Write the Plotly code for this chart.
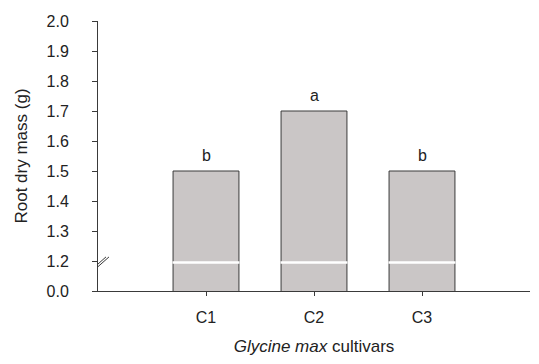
import plotly.graph_objects as go

categories = ["C1", "C2", "C3"]
values = [1.5, 1.7, 1.5]
letters = ["b", "a", "b"]
tick_vals = [1.1, 1.2, 1.3, 1.4, 1.5, 1.6, 1.7, 1.8, 1.9, 2.0]
tick_text = ["0.0", "1.2", "1.3", "1.4", "1.5", "1.6", "1.7", "1.8", "1.9", "2.0"]
break_level = 1.195

FONT = "Liberation Sans, Arial, sans-serif"
AX = "#3a3a3a"

fig = go.Figure()
fig.add_trace(go.Bar(
    x=[0, 1, 2], y=values, width=0.61,
    marker=dict(color="#cac6c6", line=dict(color="#3a3a3a", width=1)),
    showlegend=False, hoverinfo="skip",
))

shapes = []
for i, v in enumerate(values):
    shapes.append(dict(type="line", xref="x", yref="y", x0=i - 0.31, x1=i + 0.31,
                       y0=break_level, y1=break_level, line=dict(color="white", width=2.5)))
# axis break marks
for dx in (0, 3):
    shapes.append(dict(type="line", xref="x", yref="y", xsizemode="pixel", ysizemode="pixel",
                       xanchor=-1, yanchor=1.187, x0=-10 + dx, y0=-8, x1=8 + dx, y1=8,
                       line=dict(color=AX, width=1)))

annotations = []
for i, (v, t) in enumerate(zip(values, letters)):
    annotations.append(dict(x=i, y=v, xref="x", yref="y", text=t, showarrow=False,
                            yshift=16, font=dict(family=FONT, size=16, color="#222")))

fig.update_layout(
    width=531, height=356,
    margin=dict(l=90, r=9, t=13, b=73, autoexpand=False),
    paper_bgcolor="white", plot_bgcolor="white",
    shapes=shapes, annotations=annotations,
    font=dict(family=FONT, size=16, color="#222"),
    xaxis=dict(range=[-1, 3], tickvals=[0, 1, 2], ticktext=categories,
               showline=True, linecolor=AX, linewidth=1, showgrid=False, zeroline=False,
               ticks="outside", ticklen=4, tickcolor=AX, ticklabelstandoff=8,
               title=dict(text="<i>Glycine max</i> cultivars", standoff=14,
                          font=dict(family=FONT, size=17)),
               tickfont=dict(family=FONT, size=16)),
    yaxis=dict(range=[1.1, 2.0], tickvals=tick_vals, ticktext=tick_text,
               showline=True, linecolor=AX, linewidth=1, showgrid=False, zeroline=False,
               ticks="outside", ticklen=5, tickcolor=AX, ticklabelstandoff=20,
               title=dict(text="Root dry mass (g)", standoff=14,
                          font=dict(family=FONT, size=17)),
               tickfont=dict(family=FONT, size=16)),
)
fig.write_html("out.html")
